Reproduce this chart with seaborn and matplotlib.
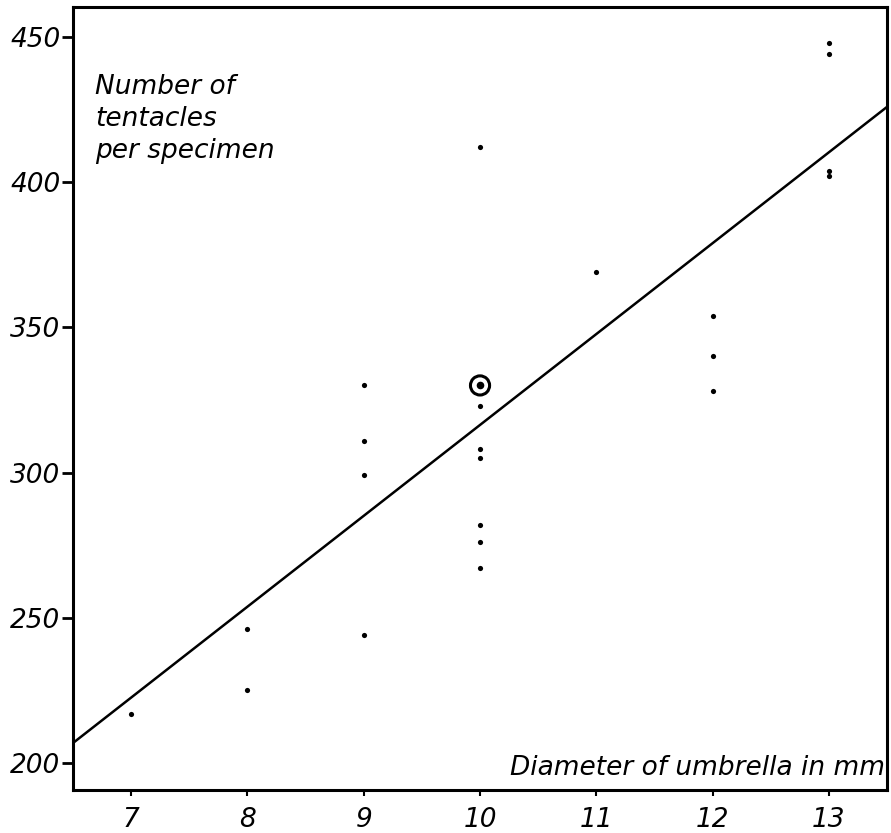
import pandas as pd
import matplotlib.pyplot as plt
import seaborn as sb

# specimens: umbrella diameter (mm) vs tentacle count
diameter = [7, 8, 8, 9, 9, 9, 9, 10, 10, 10, 10, 10, 10, 10, 11, 12, 12, 12, 13, 13, 13, 13]
tentacles = [217, 246, 225, 330, 311, 299, 244, 412, 323, 308, 305, 282, 276, 267, 369, 354, 340, 328, 448, 444, 404, 402]

# the ringed specimen
ringed_diameter = [10]
ringed_tentacles = [330]

# fitted line, end points as read at the axis edges
line_x = [6.5, 13.5]
line_y = [206.9, 425.9]

x_ticks = [7, 8, 9, 10, 11, 12, 13]
y_ticks = [200, 250, 300, 350, 400, 450]

sb.set_style("white")
plt.rcParams['font.family'] = ['DejaVu Sans']
plt.rcParams['text.color'] = 'black'
fontsize = 19

df = pd.DataFrame({"Diameter": diameter, "Tentacles": tentacles})
ringed_df = pd.DataFrame({"Diameter": ringed_diameter, "Tentacles": ringed_tentacles})
line_df = pd.DataFrame({"x": line_x, "y": line_y})

fig = plt.figure(figsize=(8.91, 8.33), dpi=100)
ax = fig.add_axes([0.082, 0.0516, 0.9135, 0.94])

sb.lineplot(data=line_df, x="x", y="y", color="black", linewidth=1.8, ax=ax)
sb.scatterplot(data=df, x="Diameter", y="Tentacles", color="black", s=14,
               linewidth=0, ax=ax)
sb.scatterplot(data=ringed_df, x="Diameter", y="Tentacles", color="black", s=30,
               linewidth=0, ax=ax)
sb.scatterplot(data=ringed_df, x="Diameter", y="Tentacles", s=190, marker="o",
               facecolor="none", edgecolor="black", linewidth=2.2, ax=ax)

ax.set_xlim(6.5, 13.5)
ax.set_ylim(190.7, 460.3)
ax.set_xticks(x_ticks)
ax.set_yticks(y_ticks)
ax.set_xticklabels([str(t) for t in x_ticks], fontsize=fontsize, style="italic")
ax.set_yticklabels([str(t) for t in y_ticks], fontsize=fontsize, style="italic")
ax.set(xlabel=None, ylabel=None)

for side in ["left", "right", "top", "bottom"]:
    ax.spines[side].set_visible(True)
    ax.spines[side].set_linewidth(2.2)
    ax.spines[side].set_color("black")

ax.tick_params(axis='y', which='both', left=True, length=8, width=2, pad=1, colors="black")
ax.tick_params(axis='x', which='both', bottom=True, length=4, width=1.5, pad=8, colors="black")

ax.text(0.027, 0.915, "Number of\ntentacles\nper specimen", transform=ax.transAxes,
        fontsize=fontsize, style="italic", va="top", ha="left", linespacing=1.3,
        color="black")
ax.text(0.998, 0.012, "Diameter of umbrella in mm", transform=ax.transAxes,
        fontsize=fontsize, style="italic", va="bottom", ha="right", color="black")

plt.savefig("out.png", dpi=100)
